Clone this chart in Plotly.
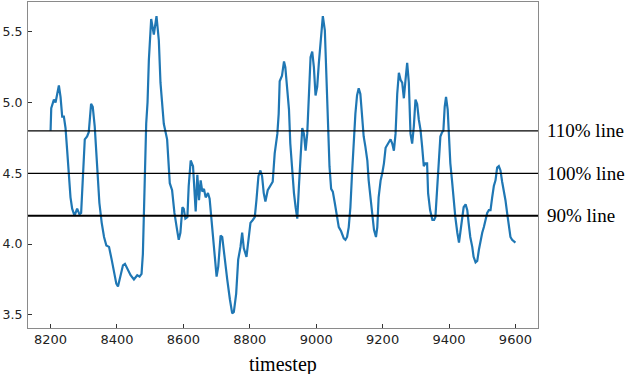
import plotly.graph_objects as go

timestep = [8200, 8202, 8210, 8215, 8220, 8225, 8230, 8235, 8240, 8245, 8250, 8255, 8260, 8265, 8272,
            8280, 8287, 8292, 8297, 8303, 8310, 8315, 8322, 8327, 8333, 8340, 8347, 8354, 8361, 8368,
            8376, 8384, 8391, 8398, 8403, 8411, 8418, 8424, 8431, 8441, 8451, 8461, 8468, 8474, 8478,
            8482, 8488, 8492, 8496, 8503, 8511, 8519, 8526, 8531, 8541, 8551, 8559, 8566, 8573, 8581,
            8586, 8591, 8597, 8601, 8606, 8612, 8616, 8622, 8629, 8637, 8642, 8647, 8652, 8657, 8662,
            8667, 8674, 8679, 8684, 8692, 8700, 8705, 8712, 8717, 8724, 8732, 8740, 8747, 8752, 8759,
            8765, 8772, 8777, 8782, 8790, 8797, 8802, 8809, 8815, 8820, 8826, 8832, 8837, 8842, 8847,
            8854, 8862, 8869, 8875, 8883, 8887, 8890, 8897, 8903, 8907, 8912, 8918, 8922, 8928, 8933,
            8938, 8943, 8948, 8953, 8958, 8963, 8968, 8973, 8978, 8983, 8988, 8993, 8998, 9003, 9008,
            9013, 9020, 9026, 9030, 9035, 9040, 9045, 9050, 9056, 9063, 9068, 9075, 9083, 9088, 9093,
            9098, 9103, 9108, 9113, 9118, 9123, 9128, 9133, 9138, 9143, 9148, 9154, 9158, 9164, 9169,
            9174, 9180, 9184, 9188, 9194, 9199, 9204, 9209, 9214, 9219, 9224, 9229, 9234, 9239, 9244,
            9249, 9254, 9259, 9264, 9269, 9274, 9279, 9284, 9289, 9294, 9299, 9304, 9309, 9314, 9319,
            9324, 9329, 9334, 9337, 9343, 9350, 9355, 9359, 9364, 9369, 9374, 9379, 9383, 9387, 9391,
            9396, 9399, 9404, 9409, 9414, 9419, 9425, 9430, 9434, 9440, 9444, 9450, 9455, 9459, 9464,
            9470, 9474, 9480, 9485, 9490, 9495, 9500, 9505, 9510, 9515, 9520, 9525, 9530, 9535, 9540,
            9545, 9550, 9555, 9560, 9565, 9570, 9575, 9580, 9585, 9590, 9600]

value = [4.80, 4.96, 5.02, 5.00, 5.06, 5.12, 5.04, 4.90, 4.90, 4.82, 4.66, 4.48, 4.33, 4.25, 4.20,
         4.25, 4.21, 4.22, 4.50, 4.74, 4.76, 4.79, 4.99, 4.97, 4.83, 4.55, 4.29, 4.15, 4.05, 3.99,
         3.98, 3.89, 3.79, 3.72, 3.70, 3.77, 3.85, 3.86, 3.83, 3.78, 3.75, 3.78, 3.77, 3.79, 3.93,
         4.31, 4.85, 5.00, 5.30, 5.59, 5.48, 5.61, 5.44, 5.14, 4.85, 4.74, 4.43, 4.38, 4.22, 4.10,
         4.03, 4.08, 4.26, 4.25, 4.18, 4.19, 4.41, 4.59, 4.55, 4.23, 4.49, 4.31, 4.45, 4.37, 4.39,
         4.33, 4.36, 4.32, 4.19, 4.01, 3.77, 3.84, 4.06, 4.05, 3.89, 3.75, 3.61, 3.51, 3.52, 3.65,
         3.89, 3.98, 4.08, 3.97, 3.91, 4.08, 4.15, 4.17, 4.19, 4.31, 4.48, 4.52, 4.48, 4.36, 4.30,
         4.38, 4.41, 4.44, 4.64, 4.78, 4.92, 5.15, 5.19, 5.29, 5.25, 5.11, 4.95, 4.71, 4.48, 4.36,
         4.26, 4.18, 4.41, 4.66, 4.82, 4.78, 4.66, 4.78, 5.04, 5.32, 5.36, 5.25, 5.05, 5.11, 5.28,
         5.42, 5.61, 5.51, 5.25, 4.83, 4.55, 4.39, 4.37, 4.29, 4.19, 4.12, 4.09, 4.04, 4.03, 4.05,
         4.12, 4.26, 4.50, 4.74, 4.92, 5.05, 5.10, 5.06, 4.92, 4.76, 4.69, 4.59, 4.45, 4.33, 4.22,
         4.10, 4.05, 4.12, 4.33, 4.45, 4.50, 4.57, 4.68, 4.70, 4.71, 4.74, 4.71, 4.66, 4.78, 5.06,
         5.21, 5.16, 5.14, 5.03, 5.16, 5.28, 5.14, 4.78, 4.71, 4.83, 5.02, 4.99, 4.88, 4.81, 4.69,
         4.55, 4.57, 4.57, 4.36, 4.24, 4.17, 4.17, 4.19, 4.36, 4.59, 4.76, 4.79, 4.80, 4.97, 5.04,
         4.95, 4.76, 4.57, 4.45, 4.31, 4.19, 4.08, 4.01, 4.08, 4.19, 4.26, 4.28, 4.24, 4.15, 4.05,
         3.98, 3.91, 3.87, 3.88, 3.96, 4.03, 4.08, 4.12, 4.17, 4.22, 4.24, 4.24, 4.33, 4.41, 4.45,
         4.54, 4.55, 4.52, 4.44, 4.38, 4.31, 4.22, 4.12, 4.05, 4.03, 4.01]

ref_levels = [4.8, 4.5, 4.2]
ref_labels = ["110% line", "100% line", "90% line"]
ref_widths = [1.3, 1.3, 1.9]

x_ticks = [8200, 8400, 8600, 8800, 9000, 9200, 9400, 9600]
y_ticks = [3.5, 4.0, 4.5, 5.0, 5.5]

fig = go.Figure()
fig.add_trace(go.Scatter(x=timestep, y=value, mode="lines",
                         line=dict(color="#1f77b4", width=2.2), showlegend=False))

for lvl, lab, w in zip(ref_levels, ref_labels, ref_widths):
    fig.add_shape(type="line", xref="paper", x0=0, x1=1, yref="y", y0=lvl, y1=lvl,
                  line=dict(color="black", width=w), layer="above")
    fig.add_annotation(xref="paper", x=1, xshift=7, xanchor="left", yref="y", y=lvl,
                       yanchor="middle", text=lab, showarrow=False,
                       font=dict(family="Liberation Serif, Times New Roman, serif", size=19, color="black"))

fig.add_annotation(xref="paper", x=0.5, yref="paper", y=0, yshift=-36, yanchor="middle",
                   text="timestep", showarrow=False,
                   font=dict(family="Liberation Serif, Times New Roman, serif", size=20, color="black"))

axis_common = dict(showline=True, linecolor="#8a8a8a", linewidth=1, mirror=True,
                   showgrid=False, zeroline=False, ticks="inside", ticklen=4,
                   tickcolor="#333333", tickwidth=1, automargin=False)

fig.update_xaxes(range=[8132, 9668], tickvals=x_ticks, ticktext=[str(t) for t in x_ticks],
                 ticklabelstandoff=-1,
                 tickfont=dict(family="DejaVu Sans, sans-serif", size=13, color="#222222"),
                 **axis_common)
fig.update_yaxes(range=[3.407, 5.71], tickvals=y_ticks, ticktext=[f"{t:.1f}" for t in y_ticks],
                 ticklabelstandoff=2,
                 tickfont=dict(family="DejaVu Sans, sans-serif", size=12.5, color="#222222"),
                 **axis_common)

fig.update_layout(width=630, height=374, margin=dict(l=28, r=92, t=2, b=46),
                  plot_bgcolor="white", paper_bgcolor="white")

fig.write_html("out.html", config={"displayModeBar": False},
               post_script="document.body.style.margin='0';document.body.style.overflow='hidden';")
